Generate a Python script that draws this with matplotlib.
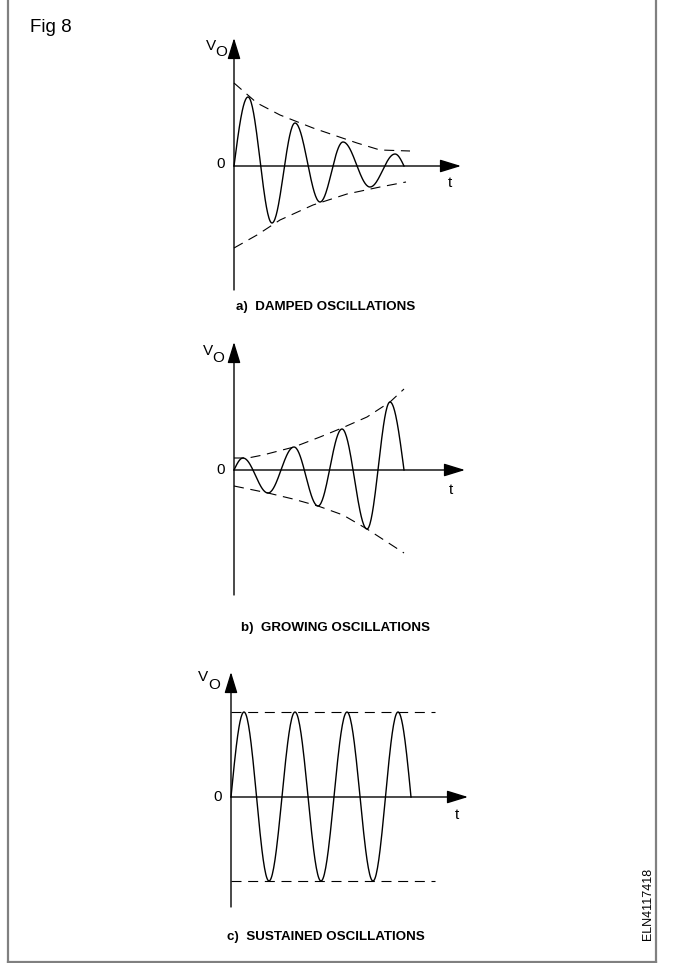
import numpy as np
import matplotlib
matplotlib.use("Agg")
import matplotlib.pyplot as plt
from matplotlib.lines import Line2D

plt.rcParams['font.family'] = ['Liberation Sans', 'DejaVu Sans']

W, H = 674, 963

# ---- a) damped oscillations: extrema (time, amplitude) ----
damped_t = [14, 38, 61, 86, 109, 136, 161]
damped_v = [69, -57, 43, -36, 24, -21, 12]
damped_end = 170
damped_env_up_t = [0, 23, 46, 79, 123, 146, 176]
damped_env_up_v = [83, 63, 51, 38, 23, 16, 15]
damped_env_lo_t = [0, 23, 46, 79, 113, 146, 172]
damped_env_lo_v = [-82, -69, -54, -39, -28, -21, -16]

# ---- b) growing oscillations ----
growing_t = [9, 34, 60, 84, 108, 133, 156]
growing_v = [12, -23, 23, -36, 41, -59, 68]
growing_end = 170
growing_env_up_t = [0, 14, 29, 60, 86, 108, 133, 156, 170]
growing_env_up_v = [12, 12, 15, 23, 33, 42, 53, 68, 81]
growing_env_lo_t = [0, 34, 59, 84, 109, 133, 170]
growing_env_lo_v = [-16, -23, -29, -36, -45, -59, -83]

# ---- c) sustained oscillations ----
sustained_t = [13, 38, 64, 90, 116, 142, 167]
sustained_v = [85, -84, 85, -84, 85, -84, 85]
sustained_end = 180
sustained_level_t = [0, 204]
sustained_level_up = [85, 85]
sustained_level_lo = [-84, -84]

captions = ["a)  DAMPED OSCILLATIONS",
            "b)  GROWING OSCILLATIONS",
            "c)  SUSTAINED OSCILLATIONS"]


def waveform(ext_t, ext_v, t_end, n=40):
    """Smooth half-wave segments joining zero, the extrema and the final zero."""
    ts, vs = [], []
    # rise from zero to the first extremum
    s = np.linspace(0, 1, n)
    ts.append(s * ext_t[0])
    vs.append(ext_v[0] * np.sin(0.5 * np.pi * s))
    for k in range(len(ext_t) - 1):
        s = np.linspace(0, 1, n)[1:]
        t0, t1 = ext_t[k], ext_t[k + 1]
        v0, v1 = ext_v[k], ext_v[k + 1]
        ts.append(t0 + s * (t1 - t0))
        vs.append((v0 + v1) / 2 + (v0 - v1) / 2 * np.cos(np.pi * s))
    s = np.linspace(0, 1, n)[1:]
    ts.append(ext_t[-1] + s * (t_end - ext_t[-1]))
    vs.append(ext_v[-1] * np.cos(0.5 * np.pi * s))
    return np.concatenate(ts), np.concatenate(vs)


fig = plt.figure(figsize=(W / 100, H / 100), dpi=100)


def panel_axes(ox, oy, left, right, top, bottom):
    ax = fig.add_axes([left / W, 1 - bottom / H, (right - left) / W, (bottom - top) / H])
    ax.set_xlim(left - ox, right - ox)
    ax.set_ylim(oy - bottom, oy - top)
    ax.axis('off')
    return ax


def draw_axes(ax, y_lo, y_tip, x_tip, v_off, o_off, zero_off, t_off):
    arrow = dict(arrowstyle='-|>,head_length=1.3,head_width=0.4', mutation_scale=10,
                 lw=1.0, color='black', shrinkA=0, shrinkB=0)
    ax.annotate('', xy=(0, y_tip), xytext=(0, y_lo), arrowprops=arrow)
    ax.annotate('', xy=(x_tip, 0), xytext=(0, 0), arrowprops=arrow)
    kw = dict(ha='center', va='center', fontsize=11, color='black')
    ax.text(*v_off, 'V', **kw)
    ax.text(*o_off, 'O', **kw)
    ax.text(*zero_off, '0', **kw)
    ax.text(*t_off, 't', **kw)


dash = dict(color='black', lw=0.8, dashes=(9, 6))
wave = dict(color='black', lw=1.0)

# panel a
ax = panel_axes(234, 166, 190, 480, 30, 300)
draw_axes(ax, -124, 128, 227, (-23, 120), (-13, 114), (-13, 2), (216, -17))
t, v = waveform(damped_t, damped_v, damped_end)
ax.plot(t, v, **wave)
ax.plot(damped_env_up_t, damped_env_up_v, **dash)
ax.plot(damped_env_lo_t, damped_env_lo_v, **dash)

# panel b
ax = panel_axes(234, 470, 190, 480, 335, 605)
draw_axes(ax, -125, 128, 231, (-26, 119), (-16, 112), (-13, 0), (217, -20))
t, v = waveform(growing_t, growing_v, growing_end)
ax.plot(t, v, **wave)
ax.plot(growing_env_up_t, growing_env_up_v, **dash)
ax.plot(growing_env_lo_t, growing_env_lo_v, **dash)

# panel c
ax = panel_axes(231, 797, 190, 480, 660, 915)
draw_axes(ax, -110, 125, 237, (-28, 120), (-17, 112), (-13, 0), (226, -18))
t, v = waveform(sustained_t, sustained_v, sustained_end)
ax.plot(t, v, **wave)
ax.plot(sustained_level_t, sustained_level_up, **dash)
ax.plot(sustained_level_t, sustained_level_lo, **dash)

# captions
for (x, y), txt in zip([(236, 307), (241, 628), (227, 937)], captions):
    fig.text(x / W, 1 - y / H, txt, ha='left', va='center', fontsize=9.6,
             fontweight='bold', color='black')

fig.text(30 / W, 1 - 27 / H, 'Fig 8', ha='left', va='center', fontsize=13.5, color='black')
fig.text(648 / W, 1 - 904 / H, 'ELN4117418', ha='center', va='center', rotation=90,
         fontsize=9, color='black')

# frame around the figure (left, right, bottom)
frame = dict(color='#808080', lw=1.6, transform=fig.transFigure)
fig.add_artist(Line2D([8 / W, 8 / W], [1, 1 - 962 / H], **frame))
fig.add_artist(Line2D([656 / W, 656 / W], [1, 1 - 962 / H], **frame))
fig.add_artist(Line2D([8 / W, 656 / W], [1 - 962 / H, 1 - 962 / H], **frame))

fig.savefig('out.png', dpi=100, facecolor='white')
